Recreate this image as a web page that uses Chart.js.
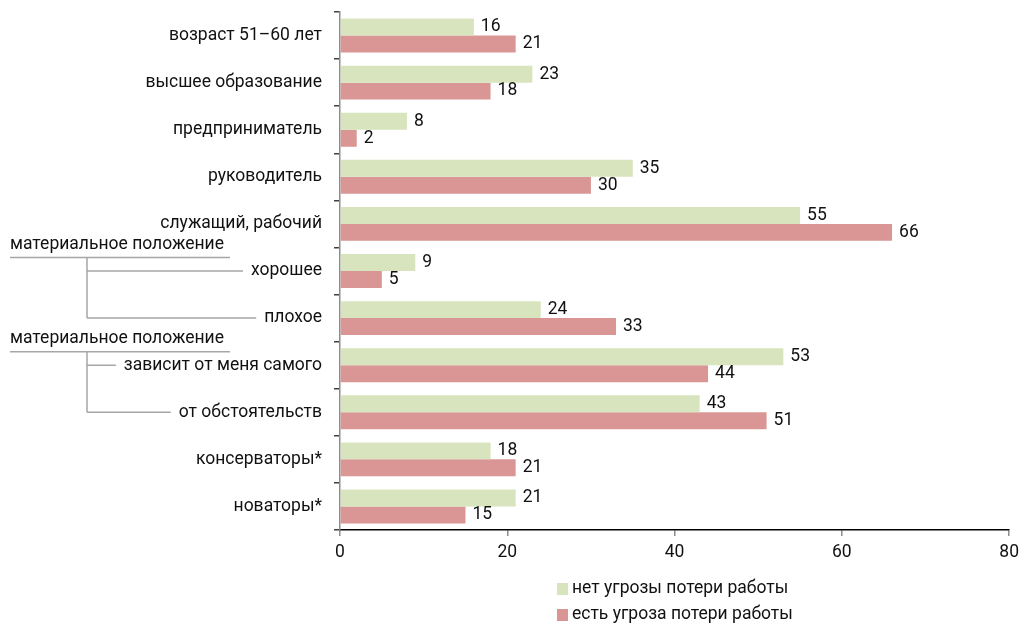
<!DOCTYPE html>
<html>
<head>
<meta charset="utf-8">
<script src="https://cdn.jsdelivr.net/npm/chart.js@4/dist/chart.umd.min.js"></script>
<style>
  html, body { margin: 0; padding: 0; background: #ffffff; }
  #wrap { width: 1025px; height: 629px; }
</style>
</head>
<body>
<div id="wrap"><canvas id="chart" width="1025" height="629"></canvas></div>
<script>
// данные
const categories = [
    'возраст 51–60 лет',
    'высшее образование',
    'предприниматель',
    'руководитель',
    'служащий, рабочий',
    'хорошее',
    'плохое',
    'зависит от меня самого',
    'от обстоятельств',
    'консерваторы*',
    'новаторы*'
];
const noThreat = [16, 23, 8, 35, 55, 9, 24, 53, 43, 18, 21];
const threat = [21, 18, 2, 30, 66, 5, 33, 44, 51, 21, 15];
const xTicks = [0, 20, 40, 60, 80];
const seriesNames = ['нет угрозы потери работы', 'есть угроза потери работы'];
const groupTitles = ['материальное положение', 'материальное положение'];
const groupRows = [[5, 6], [7, 8]];

const FONT = 'Roboto, "Liberation Sans", sans-serif';
const FSIZE = 17.5;
const TEXT = '#111111';
const GREEN = '#d7e4bd';
const RED = '#d99694';

// подписи значений справа от полос
const valueLabels = {
    id: 'valueLabels',
    afterDatasetsDraw(chart) {
        const ctx = chart.ctx;
        ctx.save();
        ctx.font = FSIZE + 'px ' + FONT;
        ctx.fillStyle = TEXT;
        ctx.textAlign = 'left';
        ctx.textBaseline = 'middle';
        chart.data.datasets.forEach((ds, i) => {
            chart.getDatasetMeta(i).data.forEach((bar, j) => {
                ctx.fillText(String(ds.data[j]), bar.x + 7, bar.y);
            });
        });
        ctx.restore();
    }
};

// заголовки групп и «дерево» линий слева
const groupTree = {
    id: 'groupTree',
    afterDraw(chart) {
        const ctx = chart.ctx;
        const y = chart.scales.y;
        const labelRight = y.right - 18;
        ctx.save();
        ctx.font = FSIZE + 'px ' + FONT;
        groupRows.forEach((rows, g) => {
            const first = rows[0];
            const top = (y.getPixelForValue(first - 1) + y.getPixelForValue(first)) / 2;
            ctx.fillStyle = TEXT;
            ctx.textAlign = 'left';
            ctx.textBaseline = 'middle';
            ctx.fillText(groupTitles[g], 10, top - 3);
            const lineY = top + 10;
            ctx.strokeStyle = '#a6a6a6';
            ctx.lineWidth = 1.5;
            ctx.beginPath();
            ctx.moveTo(10, lineY);
            ctx.lineTo(230, lineY);
            const lastY = y.getPixelForValue(rows[rows.length - 1]);
            ctx.moveTo(87, lineY);
            ctx.lineTo(87, lastY);
            rows.forEach(r => {
                const ry = y.getPixelForValue(r);
                const w = ctx.measureText(categories[r]).width;
                ctx.moveTo(87, ry);
                ctx.lineTo(labelRight - w - 8, ry);
            });
            ctx.stroke();
        });
        ctx.restore();
    }
};

// легенда столбиком под осью
const stackedLegend = {
    id: 'stackedLegend',
    afterDraw(chart) {
        const ctx = chart.ctx;
        ctx.save();
        ctx.font = FSIZE + 'px ' + FONT;
        ctx.textAlign = 'left';
        ctx.textBaseline = 'middle';
        chart.data.datasets.forEach((ds, i) => {
            const cy = 589 + i * 26;
            ctx.fillStyle = ds.backgroundColor;
            ctx.fillRect(557, cy - 6, 11, 12);
            ctx.fillStyle = TEXT;
            ctx.fillText(ds.label, 572, cy);
        });
        ctx.restore();
    }
};

new Chart(document.getElementById('chart').getContext('2d'), {
    type: 'bar',
    data: {
        labels: categories,
        datasets: [
            { label: seriesNames[0], data: noThreat, backgroundColor: GREEN,
              categoryPercentage: 0.72, barPercentage: 1.0 },
            { label: seriesNames[1], data: threat, backgroundColor: RED,
              categoryPercentage: 0.72, barPercentage: 1.0 }
        ]
    },
    options: {
        indexAxis: 'y',
        responsive: false,
        animation: false,
        layout: { padding: { left: 0, right: 13, top: 12, bottom: 0 } },
        plugins: {
            legend: { display: false },
            tooltip: { enabled: false }
        },
        scales: {
            x: {
                min: 0,
                max: 80,
                afterBuildTicks(scale) {
                    scale.ticks = xTicks.map(v => ({ value: v }));
                },
                afterFit(scale) { scale.height = 99; },
                border: { color: '#000000', width: 1.5 },
                grid: { drawOnChartArea: false, tickLength: 6, color: '#8c8c8c', lineWidth: 1.5 },
                ticks: { color: TEXT, font: { family: FONT, size: FSIZE }, padding: 6 }
            },
            y: {
                afterFit(scale) {
                    scale.width = 340;
                    scale.paddingTop = 0;
                    scale.paddingBottom = 0;
                },
                border: { color: '#8c8c8c', width: 1.5 },
                grid: { drawOnChartArea: false, tickLength: 6, color: '#404040', lineWidth: 1.5, offset: true },
                ticks: { color: TEXT, font: { family: FONT, size: FSIZE }, padding: 12 }
            }
        }
    },
    plugins: [valueLabels, groupTree, stackedLegend]
});
</script>
</body>
</html>
